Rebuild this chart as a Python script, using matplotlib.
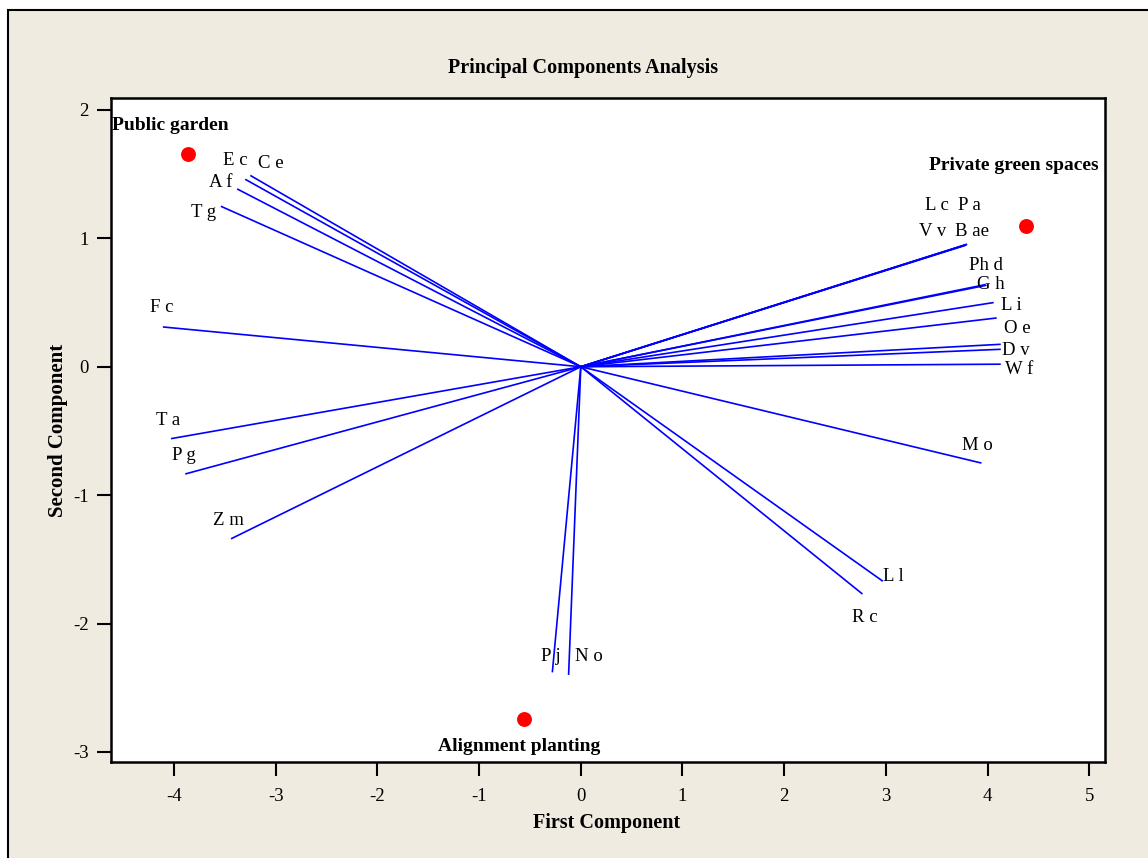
import numpy as np
import matplotlib
matplotlib.use("Agg")
from matplotlib import pyplot as plt
from matplotlib.patches import Rectangle

# loadings (vector end points)
names = ["C e", "E c", "A f", "T g", "F c", "T a", "P g", "Z m", "P j", "N o",
         "R c", "L l", "M o", "L c", "P a", "V v", "B ae", "Ph d", "G h",
         "L i", "O e", "D v", "D v", "W f"]
load_x = [-3.25, -3.30, -3.38, -3.54, -4.11, -4.03, -3.89, -3.44, -0.28, -0.12,
          2.77, 2.97, 3.94, 3.80, 3.79, 3.78, 3.795, 3.98, 3.99,
          4.06, 4.09, 4.13, 4.13, 4.13]
load_y = [1.49, 1.46, 1.385, 1.25, 0.31, -0.56, -0.835, -1.34, -2.38, -2.40,
          -1.77, -1.67, -0.75, 0.955, 0.95, 0.945, 0.952, 0.64, 0.635,
          0.50, 0.38, 0.175, 0.136, 0.02]

# label anchors (data coordinates)
lab_names = ["E c", "C e", "A f", "T g", "F c", "T a", "P g", "Z m", "P j", "N o",
             "R c", "L l", "M o", "L c", "P a", "V v", "B ae", "Ph d", "G h",
             "L i", "O e", "D v", "W f"]
lab_x = [-3.40, -3.05, -3.545, -3.71, -4.12, -4.06, -3.90, -3.47, -0.29, 0.08,
         2.79, 3.07, 3.90, 3.50, 3.82, 3.46, 3.85, 3.98, 4.03,
         4.23, 4.29, 4.28, 4.31]
lab_y = [1.61, 1.58, 1.435, 1.205, 0.46, -0.42, -0.69, -1.20, -2.26, -2.26,
         -1.955, -1.63, -0.615, 1.255, 1.255, 1.055, 1.055, 0.79, 0.64,
         0.475, 0.30, 0.13, -0.025]

# groups (scores)
groups = ["Public garden", "Private green spaces", "Alignment planting"]
grp_x = [-3.86, 4.38, -0.56]
grp_y = [1.657, 1.097, -2.74]
grp_lab_x = [-4.61, 5.09, -0.61]
grp_lab_y = [1.875, 1.57, -2.955]
grp_ha = ["left", "right", "center"]

xticks = [-4, -3, -2, -1, 0, 1, 2, 3, 4, 5]
yticks = [-3, -2, -1, 0, 1, 2]

plt.rcParams["font.family"] = ["Liberation Serif", "DejaVu Serif"]
plt.rcParams["axes.unicode_minus"] = False

fig = plt.figure(figsize=(11.48, 8.58), dpi=100, facecolor="white")
W, H = 1148, 858
fig.patches.append(Rectangle((8 / W, -0.05), 1.2, 1 - 10 / H + 0.05,
                             transform=fig.transFigure, facecolor="#efebe1",
                             edgecolor="black", linewidth=1.5, zorder=-10))

ax = fig.add_axes([111 / W, 1 - 762 / H, (1105 - 111) / W, (762 - 98) / H])
ax.set_zorder(5)
ax.set_facecolor("white")

for x, y in zip(load_x, load_y):
    ax.plot([0, x], [0, y], color="#0000ff", lw=1.2, solid_capstyle="butt")

for n, x, y in zip(lab_names, lab_x, lab_y):
    ax.text(x, y, n, fontsize=13.5, ha="center", va="center", color="black")

ax.scatter(grp_x, grp_y, s=115, color="#ff0000", zorder=5, linewidths=0)
for g, x, y, ha in zip(groups, grp_lab_x, grp_lab_y, grp_ha):
    ax.text(x, y, g, fontsize=14, fontweight="bold", ha=ha, va="center")

ax.set_xlim(-4.62, 5.155)
ax.set_ylim(-3.078, 2.093)
ax.set_xticks(xticks)
ax.set_yticks(yticks)
ax.tick_params(direction="out", length=10, width=1.5, labelsize=13.5)
ax.tick_params(axis="x", pad=9)
ax.tick_params(axis="y", pad=6)
for s in ax.spines.values():
    s.set_linewidth(1.8)

fig.text(583 / W, 1 - 68 / H, "Principal Components Analysis", fontsize=14.5,
         fontweight="bold", ha="center", va="center")
fig.text(607 / W, 1 - 823 / H, "First Component", fontsize=14.5,
         fontweight="bold", ha="center", va="center")
fig.text(58 / W, 1 - 430 / H, "Second Component", fontsize=15,
         fontweight="bold", ha="center", va="center", rotation=90)

fig.savefig("out.png", dpi=100, facecolor=fig.get_facecolor())
